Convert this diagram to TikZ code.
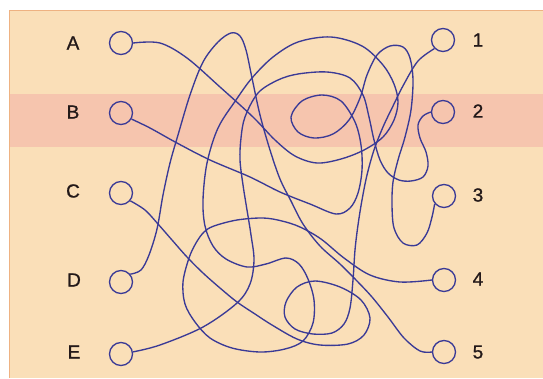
\documentclass[tikz,border=0pt]{standalone}
\usepackage{fontspec}
\setmainfont[FakeBold=1.0]{Liberation Sans}
\definecolor{wire}{RGB}{58,58,150}
\definecolor{paper}{RGB}{250,223,184}
\definecolor{band}{RGB}{246,197,174}
\definecolor{edge}{RGB}{238,178,130}
\definecolor{labc}{RGB}{35,25,25}
\begin{document}
\begin{tikzpicture}[x=1pt,y=-1pt,
  dot/.style={circle,draw=wire,line width=1.35pt,minimum size=23pt,inner sep=0pt},
  lab/.style={font=\fontsize{19}{21}\selectfont,text=labc,inner sep=0pt},
  wirepath/.style={draw=wire,line width=1.35pt,smooth,tension=0.55,line join=round}]
\useasboundingbox (0,0) rectangle (543,378);
\fill[white] (0,0) rectangle (543,378);
\fill[paper] (9,10) rectangle (543,378);
\fill[band] (9,94) rectangle (543,147);
\draw[edge,line width=0.8pt] (9,378) -- (9,10) -- (543,10);
% labels
\node[lab] (LA) at (73,43) {A};
\node[lab] (LB) at (73,112) {B};
\node[lab] (LC) at (73,191) {C};
\node[lab] (LD) at (74,280) {D};
\node[lab] (LE) at (74,352) {E};
\node[lab] (L1) at (478,40) {1};
\node[lab] (L2) at (478,111) {2};
\node[lab] (L3) at (478,195) {3};
\node[lab] (L4) at (478,279) {4};
\node[lab] (L5) at (478,352) {5};
% circles
\node[dot] (A) at (121,43) {};
\node[dot] (B) at (121,113) {};
\node[dot] (C) at (121,193) {};
\node[dot] (D) at (121,282) {};
\node[dot] (E) at (121,354) {};
\node[dot] (1) at (443,40) {};
\node[dot] (2) at (443,112) {};
\node[dot] (3) at (444,196) {};
\node[dot] (4) at (444,280) {};
\node[dot] (5) at (444,352) {};
% A -> 4
\draw[wirepath] plot coordinates {(A.east) (160,43) (187,58) (220,87) (253,117) (275,140) (295,156) (317,163) (341,159) (364,150) (383,137) (394,120) (398,102) (394,84) (383,65) (362,46) (331,37) (298,42) (273,57) (252,78) (236,100) (218,128) (207,163) (203,200) (205,226) (213,246) (226,259) (247,267) (266,264) (286,258) (299,264) (308,279) (314,300) (313,323) (303,341) (285,349) (260,352) (232,348) (210,338) (195,322) (185,304) (183,282) (189,258) (196,243) (204,232) (214,226) (237,220) (263,218) (282,221) (300,227) (321,239) (344,258) (370,275) (400,282) (4.west)};
% B -> 3
\draw[wirepath] plot coordinates {(B.-30) (150,128) (177,143) (210,160) (250,177) (280,192) (310,204) (336,214) (350,208) (358,193) (362,170) (361,145) (355,122) (341,101) (322,95) (302,101) (291,117) (298,132) (314,138) (333,134) (349,120) (360,98) (367,75) (377,55) (390,46) (403,47) (410,58) (413,80) (411,110) (405,137) (398,160) (393,182) (392,205) (394,228) (403,243) (417,245) (427,233) (432,217) (3.220)};
% C -> 1
\draw[wirepath] plot coordinates {(C.-40) (145,210) (158,224) (172,240) (187,257) (203,273) (220,288) (237,302) (255,314) (272,325) (297,339) (320,345) (348,344) (364,335) (370,318) (361,300) (340,287) (315,281) (297,287) (286,302) (285,317) (295,329) (313,334) (332,333) (344,324) (350,308) (353,280) (355,250) (358,225) (362,200) (367,175) (374,150) (383,127) (393,106) (404,84) (418,61) (1.-135)};
% D -> 5
\draw[wirepath] plot coordinates {(D.40) (141,270) (149,255) (157,229) (163,195) (170,163) (178,135) (190,95) (203,62) (218,42) (231,33) (240,36) (246,50) (252,78) (260,115) (270,150) (280,179) (291,201) (303,224) (320,246) (340,264) (357,281) (372,297) (388,317) (404,338) (420,351) (5.west)};
% E -> 2
\draw[wirepath] plot coordinates {(E.10) (160,345) (203,327) (237,303) (250,284) (254,260) (251,235) (247,210) (243,185) (240,160) (241,138) (245,117) (258,93) (278,80) (298,74) (327,72) (350,78) (363,95) (369,117) (374,140) (380,160) (388,173) (399,180) (411,181) (423,177) (428,166) (426,152) (420,138) (418,125) (423,116) (2.west)};
\end{tikzpicture}
\end{document}
